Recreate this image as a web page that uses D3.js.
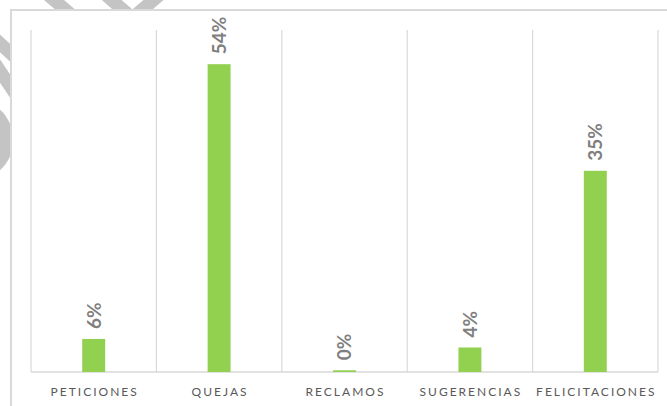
<!DOCTYPE html>
<html lang="es">
<head>
    <meta charset="UTF-8">
    <script src="https://d3js.org/d3.v7.min.js"></script>
    <style>
        body {
            margin: 0;
            padding: 0;
            background: #ffffff;
            font-family: 'Lato', 'Open Sans', sans-serif;
        }
        .cat-label {
            font-size: 12px;
            fill: #595959;
            letter-spacing: 2px;
        }
        .val-label {
            font-size: 19px;
            font-weight: bold;
            fill: #7f7f7f;
        }
    </style>
</head>
<body>
    <div id="chart"></div>
    <script>
        // Data
        const categories = ["PETICIONES", "QUEJAS", "RECLAMOS", "SUGERENCIAS", "FELICITACIONES"];
        const values = [5.8, 54.0, 0.3, 4.3, 35.3];
        const valueLabels = ["6%", "54%", "0%", "4%", "35%"];

        const width = 667;
        const height = 406;

        const svg = d3.select("#chart").append("svg")
            .attr("width", width)
            .attr("height", height);

        // watermark strokes peeking out behind the frame
        const mark = svg.append("g")
            .attr("fill", "none")
            .attr("stroke", "#c4c4c4")
            .attr("stroke-width", 13);
        mark.append("path").attr("d", "M40,-12 L75,18");
        mark.append("path").attr("d", "M98,-12 L130,16");
        mark.append("path").attr("d", "M170,-14 L130,20");
        mark.append("path").attr("d", "M-8,36 L20,62");
        mark.append("path").attr("d", "M-6,62 L18,98");
        mark.append("ellipse")
            .attr("cx", -14).attr("cy", 140)
            .attr("rx", 20).attr("ry", 28)
            .attr("stroke-width", 14);

        // chart frame (only left and top edges are visible)
        svg.append("rect")
            .attr("x", 11)
            .attr("y", 10)
            .attr("width", 700)
            .attr("height", 420)
            .attr("fill", "#ffffff")
            .attr("stroke", "#d9d9d9")
            .attr("stroke-width", 2);

        const margin = {top: 30, right: 9, bottom: 34, left: 31};
        const plotLeft = margin.left;
        const plotRight = width - margin.right;
        const plotTop = margin.top;
        const plotBottom = height - margin.bottom;

        const xBand = d3.scaleBand()
            .domain(categories)
            .range([plotLeft, plotRight])
            .padding(0);

        const xBar = d3.scaleBand()
            .domain(categories)
            .range([plotLeft, plotRight])
            .paddingInner(0.817)
            .paddingOuter(0.4085);

        const y = d3.scaleLinear()
            .domain([0, 60])
            .range([plotBottom, plotTop]);

        const g = svg.append("g");

        // vertical category separators
        const edges = categories.map(c => xBand(c)).concat([xBand.range()[1]]);
        g.selectAll(".sep")
            .data(edges)
            .enter().append("line")
            .attr("class", "sep")
            .attr("x1", d => d)
            .attr("x2", d => d)
            .attr("y1", y(60))
            .attr("y2", y(0))
            .attr("stroke", "#d9d9d9")
            .attr("stroke-width", 1.2);

        // baseline
        g.append("line")
            .attr("x1", plotLeft)
            .attr("x2", plotRight)
            .attr("y1", y(0))
            .attr("y2", y(0))
            .attr("stroke", "#d9d9d9")
            .attr("stroke-width", 1.5);

        const data = categories.map((c, i) => ({cat: c, value: values[i], label: valueLabels[i]}));

        // bars
        g.selectAll(".bar")
            .data(data)
            .enter().append("rect")
            .attr("class", "bar")
            .attr("x", d => xBar(d.cat))
            .attr("width", xBar.bandwidth())
            .attr("y", d => y(d.value))
            .attr("height", d => y(0) - y(d.value))
            .attr("fill", "#92d050");

        // value labels (rotated)
        g.selectAll(".val-label")
            .data(data)
            .enter().append("text")
            .attr("class", "val-label")
            .attr("transform", d => `translate(${xBar(d.cat) + xBar.bandwidth() / 2},${y(d.value) - 10}) rotate(-90)`)
            .attr("text-anchor", "start")
            .attr("dy", "0.36em")
            .text(d => d.label);

        // category labels
        g.selectAll(".cat-label")
            .data(categories)
            .enter().append("text")
            .attr("class", "cat-label")
            .attr("x", d => xBand(d) + xBand.bandwidth() / 2 + 1)
            .attr("y", plotBottom + 24)
            .attr("text-anchor", "middle")
            .text(d => d);
    </script>
</body>
</html>
